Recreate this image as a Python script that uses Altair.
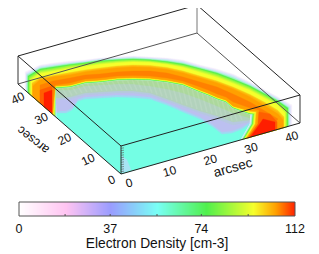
import altair as alt
import numpy as np
import pandas as pd

# colour map
cmap_values = [0, 19, 37, 56, 76, 95, 104, 112]
cmap_colors = ['#ffffff', '#ffc4f2', '#9a9cff', '#78fff5', '#50f04c', '#f6ff2c', '#ffa000', '#ff1e00']
bar_ticks = [0, 37, 74, 112]
bar_minor = [18.7, 37, 56, 74, 93]
BAR_L, BAR_R, BAR_T, BAR_B = 19, 295, 202, 216

# box geometry (arcsec)
EXT = 44
ZMAX = 12
x_ticks = [0, 10, 20, 30, 40]
y_ticks = [0, 10, 20, 30, 40]
z_ticks = [1, 2, 3, 4, 5, 6, 7, 8, 9, 10, 11]
ORIGIN = (121, 174)
EX = (179 / EXT, -51 / EXT)
EY = (-103 / EXT, -90 / EXT)
EZ = (0, -28 / ZMAX)


def proj(u, v, z=0):
    return (ORIGIN[0] + u * EX[0] + v * EY[0] + z * EZ[0],
            ORIGIN[1] + u * EX[1] + v * EY[1] + z * EZ[1])


# outer (top) contours of the arc
top_x = [40, 53, 70, 85, 100, 117, 133, 150, 167, 183, 200, 217, 233, 250, 265, 278]
pale8 = [65, 63, 61, 60, 58, 57, 56, 57, 58, 60, 65, 69, 74, 82, 90, 97]
pale20 = [66, 64, 62, 60.7, 58.7, 57.7, 56.8, 57.7, 58.8, 61, 66, 70, 75, 83, 91, 98]
pale40 = [67, 65, 63, 61.4, 59.4, 58.4, 57.5, 58.4, 59.6, 62, 67, 71, 76, 84, 92, 99]
pale60 = [68, 66, 63.5, 62, 60, 59, 58, 59, 60.5, 63, 67.5, 72, 77.5, 85, 93, 100]
green_top = [69, 67, 64.5, 62.7, 60.8, 59.7, 59, 59.7, 61.5, 64, 68.5, 73, 79, 86, 94, 101]
g81_top = [70, 68, 65.3, 63.6, 61.6, 60.4, 59.7, 60.4, 62.3, 64.9, 69.3, 74, 80, 87, 95, 102]
lime_top = [71, 69, 66, 64.5, 62.5, 61, 60.3, 61, 63, 65.7, 70, 75, 81, 88, 96, 103]
y91_top = [72.3, 70.3, 67.3, 65.5, 63.5, 62, 61.2, 61.8, 63.8, 66.6, 71.3, 76.3, 82.3, 89.3, 97.3, 104.3]
yellow_top = [73.5, 71.5, 68.5, 66.5, 64.5, 63, 62, 62.5, 64.5, 67.5, 72.5, 77.5, 83.5, 90.5, 98.5, 105.5]
amber_top = [78, 75.5, 72.5, 70, 68, 66, 65, 65.5, 67.5, 71, 76, 81, 87, 94.5, 102.5, 110.5]
o102_top = [79, 76.3, 73.7, 71, 69, 67, 66, 66.5, 68.5, 72, 77, 82, 88, 95.5, 104, 112]
orange_top = [80, 77, 75, 72, 70, 68, 67, 67.5, 69.5, 73, 78, 83, 89, 97, 106, 114]
hot_top = [85, 81, 78, 75, 74, 72, 71, 71, 73, 77, 82, 87, 94, 102, 111, 119]

# inner (bottom) contours of the arc
inner_x = [250, 233, 226, 217, 208, 200, 183, 167, 150, 133, 117, 100, 85, 70, 55]
green_in = [114, 108, 102, 99, 95, 92, 85, 82, 80, 79.5, 80, 82, 83, 87, 88]
yellow_in = [113, 107, 101, 98, 94, 91, 84, 81, 79, 78.5, 79, 81, 82, 86, 87]
orange_in = [111, 106, 100, 97, 93, 90, 83, 80, 78, 77.5, 78, 80, 81, 85, 86]
hot_in = [108, 102, 97, 94, 90, 87, 81, 78, 76, 75.5, 76, 78, 79, 83, 85]

# pale halo round the ring: tone, left wall, right wall, top contour
halos = [
    ('#f6f0fc', [(56, 117), (25, 90), (25, 72)], [(292, 105), (292, 125), (241, 139.7), (250, 124), (251, 114)], pale8),
    ('#e6e4fb', [(56, 117), (26, 91), (26, 73)], [(291, 106), (291, 125), (241, 139.7), (250, 124), (251, 114)], pale20),
    ('#c4ecf4', [(56, 117), (26.5, 91), (26.5, 74)], [(290, 107), (290, 125.5), (241.5, 139.6), (250.5, 124), (251.5, 114)], pale40),
    ('#9ff2c0', [(55.5, 116.5), (27, 92), (27, 75)], [(289, 107.5), (289, 126), (242, 139.5), (251, 124), (252, 114)], pale60),
]
# colour-mapped bands: density, left wall, right wall, inner contour, top contour
bands = [
    (76, [(55, 116), (28, 92.7), (28, 76)], [(288, 108), (288, 126.5), (243, 139.2), (252, 124), (253, 114)], green_in, green_top),
    (81, [(54.7, 115.7), (28.8, 93.4), (28.8, 77)], [(287.3, 109.5), (287.3, 126.7), (243.5, 139.1), (252.5, 124), (253.5, 114)], yellow_in, g81_top),
    (86, [(54.5, 115.5), (29.5, 94), (29.5, 78)], [(286.5, 111), (286.5, 127), (244, 139), (253, 124), (254, 113.5)], yellow_in, lime_top),
    (91, [(54.2, 115.2), (30.2, 94.7), (30.2, 79)], [(285.7, 112), (285.7, 127.1), (244.5, 138.8), (253.5, 124), (254.5, 113.2)], yellow_in, y91_top),
    (95, [(54, 115), (31, 95.4), (31, 80)], [(285, 113), (285, 127.3), (245, 138.7), (254, 124), (255, 113)], yellow_in, yellow_top),
    (100, [(53, 114.5), (32, 96.2), (32, 83)], [(284, 117), (284, 127.6), (246, 138.4), (255, 124), (256, 112)], orange_in, amber_top),
    (102, [(52.7, 114.2), (32.5, 96.6), (32.5, 84.5)], [(283.5, 118.5), (283.5, 127.8), (246.5, 138.2), (255.5, 124), (256.5, 111.5)], orange_in, o102_top),
    (104, [(52.5, 114), (33, 97), (33, 86)], [(283, 120), (283, 128), (247, 138), (256, 124), (257, 111)], orange_in, orange_top),
    (106, [(52, 113), (40, 103)], [(277, 120), (277, 129.5), (248, 137.8), (258, 124), (259, 110)], hot_in, hot_top),
]
# reddening patches inside the two end blocks
left_mid = [(40, 103), (40, 90), (52, 86), (52, 113)]
right_mid = [(248, 137.8), (258, 124), (259, 112), (270, 114), (277, 122), (277, 129.5)]
left_red = [(44, 107), (44, 93), (52, 90), (52, 113)]
right_red = [(250, 137.2), (259, 125), (263, 119), (275, 122), (275, 130)]

# cyan floor
floor = [(55, 116), (121, 174), (243, 139.2), (252, 124), (252, 100), (133, 85), (55, 95)]

# pale inner haze below the ring
haze_x = [55, 70, 85, 100, 117, 133, 150, 167, 183, 200, 217, 233, 250]
haze_top = [85, 83, 80, 78, 76, 75, 76, 78, 82, 88, 96, 104, 110]
haze_up = [90, 90, 86, 85, 84, 84, 86, 89, 93, 99, 106, 113, 118]
haze_bot = [98, 97, 93, 92, 91, 91, 93, 99, 105, 111, 116, 122, 120]
haze_mid = [100, 99, 95, 94, 93, 93, 95, 101, 107, 113, 119, 125, 122]
lav_x = [55, 60, 66, 72, 78, 85, 100, 117, 133, 150, 167, 183, 200, 213, 222, 232, 242, 250]
lav_bot = [112, 111, 111, 108, 99, 97, 96, 95, 95.5, 97, 103, 110, 117, 125, 132, 131, 127, 122]
fringe_bot = [113, 113, 113, 110, 101, 99, 98, 97, 97.5, 99, 105, 112, 119, 127, 134, 133, 129, 124]
corner_tint = [(122, 173), (122, 156), (127, 160), (131, 170)]
# stripes seen in the haze (screen x of each)
stripe_x = [62, 67, 72, 77, 82, 87, 92, 97, 102, 107, 112, 117, 122, 127, 132, 137, 142, 147,
            152, 157, 162, 167, 172, 177, 182, 187, 192, 197, 202, 207, 212, 217, 222, 227, 232, 237]

polys, haze_polys, halo_polys = [], [], []


def add(store, pid, pts, **kw):
    for i, (x, y) in enumerate(pts):
        store.append(dict(pid=pid, i=i, x=x, y=y, **kw))


for n, (val, left, right, inner, top) in enumerate(bands):
    pts = left + list(zip(top_x, top)) + right + list(zip(inner_x, inner)) + [left[0]]
    add(polys, f'b{n:02d}', pts, density=val)
add(polys, 'lm', left_mid, density=108)
add(polys, 'rm', right_mid, density=108)
add(polys, 'lr', left_red, density=112)
add(polys, 'rr', right_red, density=112)

for n, (tone, left, right, top) in enumerate(halos):
    pts = left + list(zip(top_x, top)) + right + list(zip(inner_x, green_in)) + [left[0]]
    add(halo_polys, f'p{n}', pts, tone=tone)

top_edge = list(zip(haze_x, haze_top))
add(haze_polys, 'h0', top_edge + list(zip(lav_x, fringe_bot))[::-1], tone='#9fd8f2')
add(haze_polys, 'h1', top_edge + list(zip(lav_x, lav_bot))[::-1], tone='#bcc0f0')
add(haze_polys, 'h2', top_edge + list(zip(haze_x, haze_mid))[::-1], tone='#b6c8e0')
add(haze_polys, 'h3', top_edge + list(zip(haze_x, haze_bot))[::-1], tone='#b2d2bc')
add(haze_polys, 'h4', top_edge + list(zip(haze_x, haze_up))[::-1], tone='#acd89c')
add(haze_polys, 'h5', corner_tint, tone='#a8e4f4')

floor_rows = []
add(floor_rows, 'f', floor, density=58)

X = alt.X('x:Q', axis=None, scale=alt.Scale(domain=[8, 311], nice=False, zero=False))
Y = alt.Y('y:Q', axis=None, scale=alt.Scale(domain=[252, 8], nice=False, zero=False))
dens_scale = alt.Scale(domain=cmap_values, range=cmap_colors, interpolate='rgb')


def poly_layer(rows):
    return alt.Chart(pd.DataFrame(rows)).mark_line(strokeWidth=0.6, strokeOpacity=0.6).encode(
        x=X, y=Y, detail='pid:N', order='i:Q',
        fill=alt.Fill('density:Q', scale=dens_scale, legend=None),
        stroke=alt.Stroke('density:Q', scale=dens_scale, legend=None),
    )


def tone_layer(rows):
    return alt.Chart(pd.DataFrame(rows)).mark_line(strokeWidth=0.6, strokeOpacity=0.6).encode(
        x=X, y=Y, detail='pid:N', order='i:Q',
        fill=alt.Fill('tone:N', scale=None), stroke=alt.Stroke('tone:N', scale=None),
    )


floor_layer = poly_layer(floor_rows)
bands_layer = poly_layer(polys)
haze_layer = tone_layer(haze_polys)
halo_layer = tone_layer(halo_polys)

in_x = inner_x[::-1]
in_y = green_in[::-1]
stripe_rows = [dict(x=sx, y=float(np.interp(sx, in_x, in_y)), x2=sx + 5,
                    y2=float(np.interp(sx + 5, haze_x, haze_bot)) - 1) for sx in stripe_x]
stripe_layer = alt.Chart(pd.DataFrame(stripe_rows)).mark_rule(
    strokeWidth=1.6, color='#ffffff', opacity=0.1).encode(x=X, y=Y, x2='x2:Q', y2='y2:Q')

# box edges
E, Z = EXT, ZMAX
edges = [
    ((0, E, 0), (E, E, 0), '#555555'), ((E, E, 0), (E, 0, 0), '#555555'),
    ((E, E, 0), (E, E, Z), '#777777'),
    ((0, E, 0), (0, E, Z), '#333333'), ((E, 0, 0), (E, 0, Z), '#333333'),
    ((0, 0, 0), (0, 0, Z), '#333333'),
    ((0, 0, 0), (E, 0, 0), '#222222'), ((0, 0, 0), (0, E, 0), '#222222'),
    ((0, 0, Z), (E, 0, Z), '#222222'), ((0, 0, Z), (0, E, Z), '#222222'),
    ((0, E, Z), (E, E, Z), '#222222'), ((E, E, Z), (E, 0, Z), '#222222'),
]
edge_rows = []
for a, b, col in edges:
    p, q = proj(*a), proj(*b)
    edge_rows.append(dict(x=p[0], y=p[1], x2=q[0], y2=q[1], col=col))
edge_layer = alt.Chart(pd.DataFrame(edge_rows)).mark_rule(strokeWidth=1).encode(
    x=X, y=Y, x2='x2:Q', y2='y2:Q', stroke=alt.Stroke('col:N', scale=None))

tick_rows = []
for z in z_ticks:
    p = proj(0, 0, z)
    tick_rows.append(dict(x=p[0], y=p[1], x2=p[0] + 3, y2=p[1] - 0.5))
tick_layer = alt.Chart(pd.DataFrame(tick_rows)).mark_rule(strokeWidth=0.6, color='#555555').encode(
    x=X, y=Y, x2='x2:Q', y2='y2:Q')

FONT = 'Liberation Sans'
xl = [dict(x=proj(t, 0)[0] + 8, y=proj(t, 0)[1] + 9, s=str(t)) for t in x_ticks]
yl = [dict(x=proj(0, t)[0] - 9.5, y=proj(0, t)[1] + 6, s=str(t)) for t in y_ticks]
x_lab = alt.Chart(pd.DataFrame(xl)).mark_text(font=FONT, fontSize=12, angle=344, color='#111111').encode(x=X, y=Y, text='s:N')
y_lab = alt.Chart(pd.DataFrame(yl)).mark_text(font=FONT, fontSize=12, angle=335, color='#111111').encode(x=X, y=Y, text='s:N')
x_title = alt.Chart(pd.DataFrame([dict(x=233, y=168, s='arcsec')])).mark_text(font=FONT, fontSize=13.5, angle=344, color='#111111').encode(x=X, y=Y, text='s:N')
y_title = alt.Chart(pd.DataFrame([dict(x=33, y=140, s='arcsec')])).mark_text(font=FONT, fontSize=12.5, angle=218, color='#111111').encode(x=X, y=Y, text='s:N')

# colour bar
bar_rows = [dict(x=px, x2=px + 1, y=BAR_T, y2=BAR_B, density=(px - BAR_L) / (BAR_R - BAR_L) * 112)
            for px in range(BAR_L, BAR_R)]
bar = alt.Chart(pd.DataFrame(bar_rows)).mark_rect().encode(
    x=X, x2='x2:Q', y=Y, y2='y2:Q', fill=alt.Fill('density:Q', scale=dens_scale, legend=None))
frame = alt.Chart(pd.DataFrame([dict(x=BAR_L, x2=BAR_R, y=BAR_T, y2=BAR_B)])).mark_rect(
    fillOpacity=0, stroke='#555555', strokeWidth=1).encode(x=X, x2='x2:Q', y=Y, y2='y2:Q')
minor_rows = [dict(x=BAR_L + t / 112 * (BAR_R - BAR_L), y=BAR_B, y2=BAR_B - 2) for t in bar_minor]
minor = alt.Chart(pd.DataFrame(minor_rows)).mark_rule(strokeWidth=1, color='#555555').encode(x=X, y=Y, y2='y2:Q')
bar_lab_rows = [dict(x=BAR_L + t / 112 * (BAR_R - BAR_L), y=233, s=str(t)) for t in bar_ticks]
bar_lab = alt.Chart(pd.DataFrame(bar_lab_rows)).mark_text(font=FONT, fontSize=12.5, baseline='alphabetic', color='#111111').encode(x=X, y=Y, text='s:N')
bar_title = alt.Chart(pd.DataFrame([dict(x=157, y=248, s='Electron Density [cm-3]')])).mark_text(
    font=FONT, fontSize=13.8, baseline='alphabetic', color='#111111').encode(x=X, y=Y, text='s:N')

chart = alt.layer(
    floor_layer, haze_layer, stripe_layer, halo_layer, bands_layer, tick_layer, edge_layer,
    x_lab, y_lab, x_title, y_title, bar, frame, minor, bar_lab, bar_title
).resolve_scale(fill='independent', stroke='independent').properties(
    width=303, height=244, padding=0,
    autosize=alt.AutoSizeParams(type='none'),
).configure_view(stroke=None)

chart.save('out.html', embed_options={'renderer': 'svg', 'actions': False})
